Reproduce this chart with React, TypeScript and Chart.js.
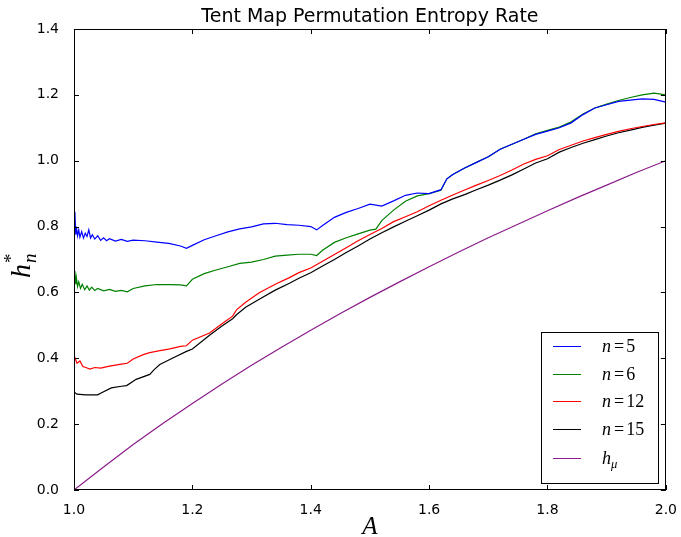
import React, { useEffect, useRef } from "react";
import { Chart, registerables } from "chart.js";

Chart.register(...registerables);

const titleText = "Tent Map Permutation Entropy Rate";
const xTicks = [1.0, 1.2, 1.4, 1.6, 1.8, 2.0];
const yTicks = [0.0, 0.2, 0.4, 0.6, 0.8, 1.0, 1.2, 1.4];
const legendLabels = ["n=5", "n=6", "n=12", "n=15", "h_μ"];
const colors = ["#0000ff", "#008000", "#ff0000", "#000000", "#8b1c8b"];

const n5X = [1.000,1.0015,1.003,1.004,1.006,1.008,1.010,1.013,1.016,1.019,1.022,1.025,1.028,1.031,1.035,1.040,1.045,1.050,1.055,1.060,1.070,1.080,1.090,1.100,1.120,1.140,1.160,1.180,1.190,1.200,1.220,1.240,1.260,1.280,1.300,1.320,1.340,1.360,1.380,1.400,1.410,1.420,1.440,1.460,1.480,1.500,1.520,1.540,1.560,1.580,1.600,1.620,1.630,1.640,1.660,1.680,1.700,1.720,1.740,1.760,1.780,1.800,1.820,1.840,1.860,1.880,1.900,1.920,1.940,1.960,1.980,2.000];
const n5Y = [0.800,0.845,0.775,0.800,0.772,0.790,0.768,0.785,0.765,0.780,0.770,0.790,0.765,0.775,0.762,0.772,0.758,0.766,0.757,0.763,0.756,0.761,0.755,0.759,0.757,0.753,0.749,0.741,0.734,0.743,0.760,0.772,0.784,0.793,0.799,0.808,0.810,0.806,0.804,0.800,0.790,0.803,0.828,0.843,0.855,0.868,0.862,0.878,0.895,0.902,0.900,0.912,0.945,0.958,0.978,0.995,1.012,1.035,1.050,1.065,1.080,1.090,1.100,1.115,1.140,1.160,1.170,1.180,1.184,1.188,1.186,1.178];

const n6X = [1.000,1.0015,1.003,1.004,1.006,1.008,1.011,1.014,1.018,1.022,1.026,1.030,1.035,1.040,1.050,1.060,1.070,1.080,1.090,1.100,1.120,1.140,1.160,1.180,1.190,1.200,1.220,1.240,1.260,1.280,1.300,1.320,1.340,1.360,1.380,1.400,1.410,1.420,1.440,1.460,1.480,1.500,1.510,1.520,1.540,1.560,1.580,1.600,1.620,1.630,1.640,1.660,1.680,1.700,1.720,1.740,1.760,1.780,1.800,1.820,1.840,1.860,1.880,1.900,1.920,1.940,1.960,1.980,2.000];
const n6Y = [0.640,0.665,0.625,0.645,0.618,0.632,0.612,0.625,0.608,0.620,0.607,0.616,0.606,0.612,0.605,0.609,0.603,0.606,0.602,0.612,0.620,0.624,0.624,0.623,0.620,0.640,0.657,0.668,0.678,0.688,0.692,0.700,0.710,0.713,0.716,0.716,0.712,0.728,0.752,0.766,0.778,0.789,0.792,0.818,0.850,0.877,0.893,0.900,0.910,0.945,0.958,0.978,0.995,1.012,1.035,1.050,1.065,1.082,1.092,1.102,1.118,1.142,1.160,1.172,1.183,1.192,1.200,1.205,1.200];

const n12X = [1.000,1.002,1.005,1.010,1.015,1.020,1.027,1.035,1.045,1.060,1.080,1.090,1.100,1.117,1.128,1.145,1.160,1.180,1.190,1.200,1.229,1.250,1.268,1.275,1.290,1.313,1.340,1.364,1.380,1.400,1.420,1.440,1.460,1.480,1.500,1.520,1.540,1.560,1.580,1.600,1.620,1.640,1.660,1.680,1.700,1.720,1.740,1.760,1.780,1.800,1.820,1.840,1.860,1.880,1.900,1.920,1.940,1.960,1.980,2.000];
const n12Y = [0.390,0.400,0.385,0.392,0.375,0.372,0.367,0.372,0.370,0.376,0.382,0.385,0.398,0.411,0.417,0.423,0.428,0.436,0.438,0.455,0.477,0.505,0.528,0.548,0.570,0.599,0.625,0.645,0.660,0.674,0.695,0.715,0.736,0.757,0.776,0.794,0.815,0.830,0.845,0.863,0.880,0.896,0.911,0.926,0.940,0.955,0.972,0.990,1.004,1.015,1.034,1.047,1.060,1.070,1.080,1.089,1.097,1.104,1.110,1.115];

const n15X = [1.000,1.005,1.020,1.040,1.045,1.063,1.080,1.089,1.105,1.128,1.135,1.145,1.167,1.190,1.200,1.229,1.250,1.268,1.275,1.290,1.313,1.340,1.364,1.380,1.400,1.420,1.440,1.460,1.480,1.500,1.520,1.540,1.560,1.580,1.600,1.620,1.640,1.660,1.680,1.700,1.720,1.740,1.760,1.780,1.800,1.820,1.840,1.860,1.880,1.900,1.920,1.940,1.960,1.980,2.000];
const n15Y = [0.298,0.291,0.289,0.289,0.294,0.310,0.315,0.317,0.336,0.351,0.365,0.381,0.401,0.421,0.428,0.470,0.498,0.520,0.533,0.555,0.579,0.607,0.628,0.643,0.660,0.680,0.700,0.721,0.741,0.762,0.781,0.799,0.816,0.833,0.850,0.869,0.884,0.897,0.912,0.926,0.941,0.957,0.975,0.993,1.006,1.026,1.040,1.053,1.064,1.075,1.085,1.093,1.101,1.108,1.114];

const hmuX = [1.00,1.05,1.10,1.15,1.20,1.25,1.30,1.35,1.40,1.45,1.50,1.55,1.60,1.65,1.70,1.75,1.80,1.85,1.90,1.95,2.00];
const hmuY = [0.000,0.070,0.138,0.202,0.263,0.322,0.379,0.433,0.485,0.536,0.585,0.632,0.678,0.723,0.766,0.807,0.848,0.888,0.926,0.964,1.000];

const seriesX = [n5X, n6X, n12X, n15X, hmuX];
const seriesY = [n5Y, n6Y, n12Y, n15Y, hmuY];

const SERIF = "'Liberation Serif', 'DejaVu Serif', serif";
const SANS = "'DejaVu Sans', sans-serif";

type Part = { t: string; italic: boolean; size: number; dy: number; gapBefore: number };

function parseMath(label: string, size: number): Part[] {
  if (label.includes("=")) {
    const [a, b] = label.split("=");
    return [
      { t: a, italic: true, size, dy: 0, gapBefore: 0 },
      { t: "=", italic: false, size, dy: 0, gapBefore: 3 },
      { t: b, italic: false, size, dy: 0, gapBefore: 2 },
    ];
  }
  const [base, sub] = label.split("_");
  return [
    { t: base, italic: true, size, dy: 0, gapBefore: 0 },
    { t: sub, italic: true, size: size * 0.7, dy: size * 0.25, gapBefore: 0 },
  ];
}

function drawParts(ctx: CanvasRenderingContext2D, parts: Part[], x: number, y: number) {
  let cx = x;
  for (const p of parts) {
    cx += p.gapBefore;
    ctx.font = `${p.italic ? "italic " : ""}${p.size}px ${SERIF}`;
    ctx.fillText(p.t, cx, y + p.dy);
    cx += ctx.measureText(p.t).width;
  }
}

const decorPlugin = {
  id: "decor",
  afterDraw(chart: any) {
    const ctx: CanvasRenderingContext2D = chart.ctx;
    const { left, right, top, bottom } = chart.chartArea;
    const xs = chart.scales.x;
    const ys = chart.scales.y;
    ctx.save();
    ctx.strokeStyle = "#000";
    ctx.lineWidth = 1;
    ctx.strokeRect(Math.round(left) + 0.5, Math.round(top) + 0.5, Math.round(right - left) - 1, Math.round(bottom - top) - 1);
    ctx.beginPath();
    const tl = 5;
    for (const v of xTicks) {
      const px = Math.round(xs.getPixelForValue(v)) + 0.5;
      ctx.moveTo(px, bottom);
      ctx.lineTo(px, bottom - tl);
      ctx.moveTo(px, top);
      ctx.lineTo(px, top + tl);
    }
    for (const v of yTicks) {
      const py = Math.round(ys.getPixelForValue(v)) + 0.5;
      ctx.moveTo(left, py);
      ctx.lineTo(left + tl, py);
      ctx.moveTo(right, py);
      ctx.lineTo(right - tl, py);
    }
    ctx.stroke();

    // title
    ctx.fillStyle = "#000";
    ctx.font = `19px ${SANS}`;
    ctx.textAlign = "center";
    ctx.textBaseline = "alphabetic";
    ctx.fillText(titleText, (left + right) / 2, 22);

    // x label
    ctx.font = `italic 25px ${SERIF}`;
    ctx.fillText("A", (left + right) / 2, 534);

    // y label h_n^*
    ctx.save();
    ctx.translate(30, 262);
    ctx.rotate(-Math.PI / 2);
    ctx.textAlign = "left";
    ctx.font = `italic 28px ${SERIF}`;
    const hw = ctx.measureText("h").width;
    const startX = -16;
    ctx.fillText("h", startX, 0);
    ctx.font = `19px ${SERIF}`;
    ctx.fillText("*", startX + hw + 1, -13);
    ctx.font = `italic 19px ${SERIF}`;
    ctx.fillText("n", startX + hw + 1, 6);
    ctx.restore();

    // legend
    const bx = 541, by = 332, bw = 117, bh = 151;
    ctx.fillStyle = "#fff";
    ctx.fillRect(bx, by, bw, bh);
    ctx.strokeStyle = "#000";
    ctx.strokeRect(bx + 0.5, by + 0.5, bw, bh);
    ctx.textAlign = "left";
    ctx.textBaseline = "alphabetic";
    const rowY = [346.5, 374.5, 401.5, 429.5, 458.5];
    legendLabels.forEach((lab, i) => {
      ctx.strokeStyle = colors[i];
      ctx.lineWidth = 1;
      ctx.beginPath();
      ctx.moveTo(553, rowY[i]);
      ctx.lineTo(581, rowY[i]);
      ctx.stroke();
      ctx.fillStyle = "#000";
      drawParts(ctx, parseMath(lab, 18), 602, rowY[i] + 5);
    });
    ctx.restore();
  },
};

export default function App() {
  const ref = useRef<HTMLCanvasElement | null>(null);
  useEffect(() => {
    document.body.style.margin = "0";
    const canvas = ref.current;
    if (!canvas) return;
    const datasets = legendLabels.map((lab, i) => ({
      label: lab,
      data: seriesX[i].map((x, j) => ({ x, y: seriesY[i][j] })),
      borderColor: colors[i],
      backgroundColor: colors[i],
      borderWidth: 1.2,
      pointRadius: 0,
      tension: 0,
      fill: false,
    }));
    const chart = new Chart(canvas, {
      type: "line",
      data: { datasets },
      options: {
        animation: false,
        responsive: false,
        devicePixelRatio: 1,
        layout: { padding: { top: 29, right: 13, left: 0, bottom: 0 } },
        plugins: { legend: { display: false }, tooltip: { enabled: false }, title: { display: false } },
        scales: {
          x: {
            type: "linear",
            min: 1,
            max: 2,
            afterBuildTicks: (s: any) => { s.ticks = xTicks.map((v) => ({ value: v })); },
            ticks: {
              callback: (v: any) => Number(v).toFixed(1),
              font: { family: SANS, size: 14 },
              color: "#000",
              padding: 4,
              maxRotation: 0,
            },
            grid: { display: false },
            border: { display: false },
            afterFit: (s: any) => { s.height = 47; },
          },
          y: {
            type: "linear",
            min: 0,
            max: 1.4,
            afterBuildTicks: (s: any) => { s.ticks = yTicks.map((v) => ({ value: v })); },
            ticks: {
              callback: (v: any) => Number(v).toFixed(1),
              font: { family: SANS, size: 14 },
              color: "#000",
              padding: 7,
            },
            grid: { display: false },
            border: { display: false },
            afterFit: (s: any) => { s.width = 74; },
          },
        },
      },
      plugins: [decorPlugin],
    });
    return () => chart.destroy();
  }, []);
  return <canvas ref={ref} width={681} height={537} style={{ display: "block" }} />;
}
